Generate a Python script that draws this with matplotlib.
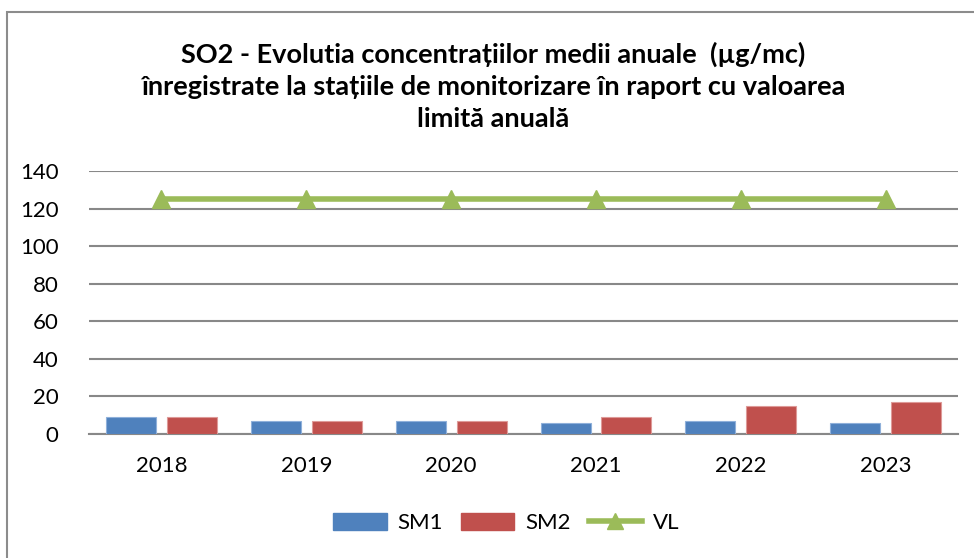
import numpy as np
import matplotlib.pyplot as plt
from matplotlib.patches import Rectangle
from matplotlib.lines import Line2D

# data
years = ['2018', '2019', '2020', '2021', '2022', '2023']
sm1 = [9, 7, 7, 6, 7, 6]
sm2 = [9, 7, 7, 9, 15, 17]
vl = [125, 125, 125, 125, 125, 125]

title = ('SO2 - Evolutia concentrațiilor medii anuale  (µg/mc)\n'
         'înregistrate la stațiile de monitorizare în raport cu valoarea\n'
         'limită anuală')

c_sm1 = '#4F81BD'
c_sm2 = '#C0504D'
c_vl = '#9BBB59'
grid_c = '#888888'

plt.rcParams['font.family'] = ['Lato', 'DejaVu Sans']

fig = plt.figure(figsize=(9.74, 5.58), dpi=100)
ax = fig.add_axes([0.0914, 0.2222, 0.8922, 0.4708])

# outer chart frame (only left and top visible in the crop)
fig.patches.append(Rectangle((7 / 974, -0.1), 1.2, 1 - 12 / 558 + 0.1,
                             transform=fig.transFigure, fill=False,
                             edgecolor='#8c8c8c', linewidth=1.5))

x = np.arange(len(years))
w = 0.345
ax.bar(x - 0.21, sm1, w, color=c_sm1, edgecolor='#8FB0DA', linewidth=0.8, label='SM1', zorder=3)
ax.bar(x + 0.21, sm2, w, color=c_sm2, edgecolor='#DE9A98', linewidth=0.8, label='SM2', zorder=3)
ax.plot(x, vl, color=c_vl, linewidth=4, marker='^', markersize=13, label='VL', zorder=4)

ax.set_xlim(-0.5, len(years) - 0.5)
ax.set_ylim(0, 140)
ax.set_yticks(range(0, 141, 20))
ax.set_xticks(x)
ax.set_xticklabels(years)
ax.yaxis.grid(True, color=grid_c, linewidth=1.5, zorder=0)
ax.set_axisbelow(True)
for s in ['left', 'right', 'top']:
    ax.spines[s].set_visible(False)
ax.spines['bottom'].set_color(grid_c)
ax.spines['bottom'].set_linewidth(1.5)
ax.tick_params(axis='both', length=0, labelsize=16)
ax.tick_params(axis='y', pad=22)
ax.tick_params(axis='x', pad=16)

fig.text(0.506, 0.925, title, ha='center', va='top', fontsize=19.5,
         fontweight='bold', linespacing=1.4)

handles = [Rectangle((0, 0), 1, 1, color=c_sm1),
           Rectangle((0, 0), 1, 1, color=c_sm2),
           Line2D([], [], color=c_vl, linewidth=4, marker='^', markersize=11)]
fig.legend(handles, ['SM1', 'SM2', 'VL'], loc='center', bbox_to_anchor=(0.52, 0.063),
           ncol=3, frameon=False, fontsize=16, handlelength=2.4, handleheight=0.8,
           columnspacing=0.8, handletextpad=0.5)

fig.savefig('out.png', dpi=100)
